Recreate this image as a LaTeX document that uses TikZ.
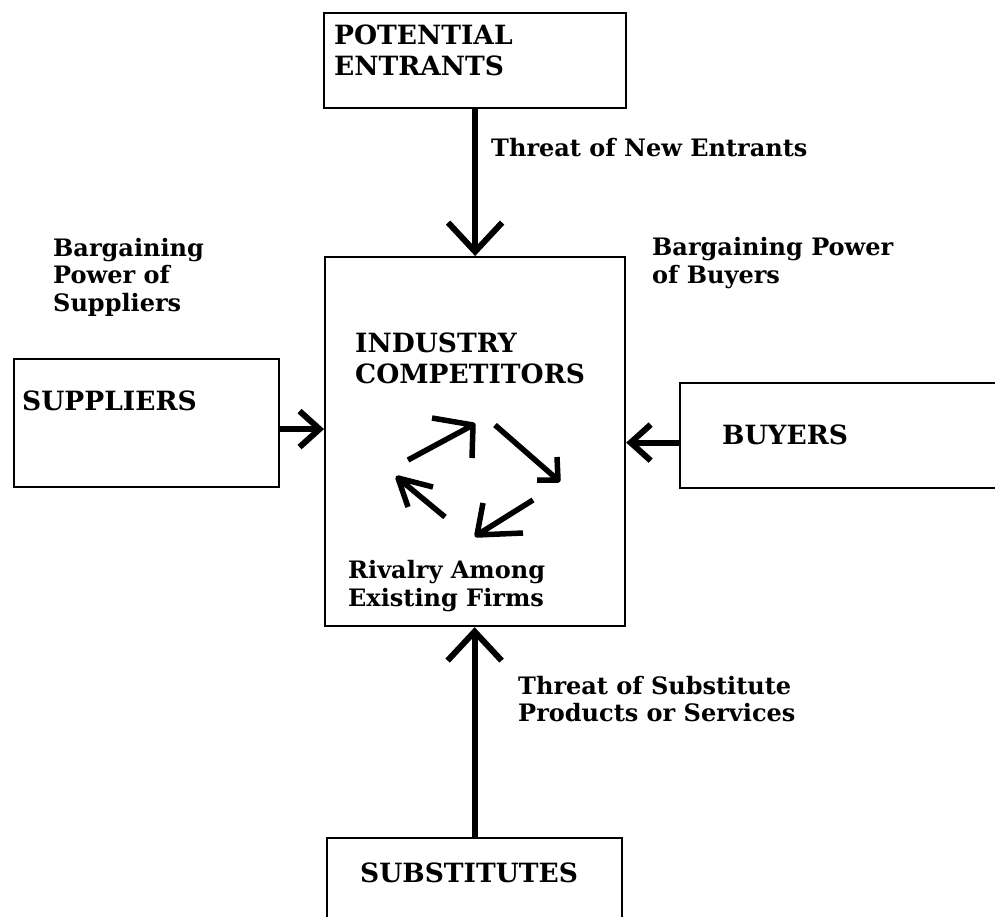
\documentclass[tikz,border=0pt]{standalone}
\usepackage{fontspec}
\setmainfont{DejaVu Serif}
\usetikzlibrary{arrows.meta,positioning}

\tikzset{
  box/.style={draw, line width=2.2pt, inner sep=0pt, anchor=north west},
  boxname/.style={font=\fontsize{26.5}{31}\selectfont\bfseries, align=left, inner sep=0pt, anchor=west},
  lbl/.style={font=\fontsize{24}{27.5}\selectfont\bfseries, align=left, inner sep=0pt, anchor=west},
  force/.style={line width=6pt, -{Straight Barb[length=29pt,width=54pt]}},
  sideforce/.style={line width=6pt, -{Straight Barb[length=20pt,width=36pt]}},
  rival/.style={line width=5.5pt, line join=round}
}

\begin{document}
\begin{tikzpicture}[x=1pt,y=-1pt]
    \useasboundingbox (0,0) rectangle (995,917);
    \clip (0,0) rectangle (995,917);

    % Draw the boxes
    \node[box, minimum width=302pt, minimum height=95pt] (pot) at (323,12) {};
    \node[box, minimum width=300pt, minimum height=369pt] (comp) at (324,256) {};
    \node[box, minimum width=265pt, minimum height=128pt] (sup) at (13,358) {};
    \node[box, minimum width=330pt, minimum height=105pt] (buy) at (679,382) {};
    \node[box, minimum width=295pt, minimum height=100pt] (subs) at (326,837) {};

    % Box names
    \node[boxname] (potname) at (334,50) {POTENTIAL\\ENTRANTS};
    \node[boxname] (compname) at (355,358) {INDUSTRY\\COMPETITORS};
    \node[boxname] (supname) at (22,401) {SUPPLIERS};
    \node[boxname] (buyname) at (722,435) {BUYERS};
    \node[boxname] (subsname) at (360,873) {SUBSTITUTES};

    % Add labels
    \node[lbl] (newthreat) at (491,148) {Threat of New Entrants};
    \node[lbl] (suppower) at (53,277) {Bargaining\\Power of\\Suppliers};
    \node[lbl] (buypower) at (652,263) {Bargaining Power\\of Buyers};
    \node[lbl] (rivalry) at (348,586) {Rivalry Among\\Existing Firms};
    \node[lbl] (substhreat) at (518,699) {Threat of Substitute\\Products or Services};

    % Forces acting on the industry
    \coordinate (supout) at ([yshift=-6pt]sup.east);
    \coordinate (buyout) at ([yshift=-7pt]buy.west);
    \draw[force] (pot.south) -- (pot.south |- comp.north);
    \draw[force] (subs.north) -- (subs.north |- comp.south);
    \draw[sideforce] (supout) -- (supout -| comp.west);
    \draw[sideforce] (buyout) -- (buyout -| comp.east);

    % Rivalry arrows
    \draw[rival] (408,460) -- (473,425) (432,418) -- (473,425) -- (472,458);
    \draw[rival] (495,425) -- (558,480) (557,457) -- (558,480) -- (537,480);
    \draw[rival] (533,500) -- (477,535) (483,503) -- (477,535) -- (523,533);
    \draw[rival] (445,517) -- (398,478) (433,487) -- (398,478) -- (408,507);
\end{tikzpicture}
\end{document}
